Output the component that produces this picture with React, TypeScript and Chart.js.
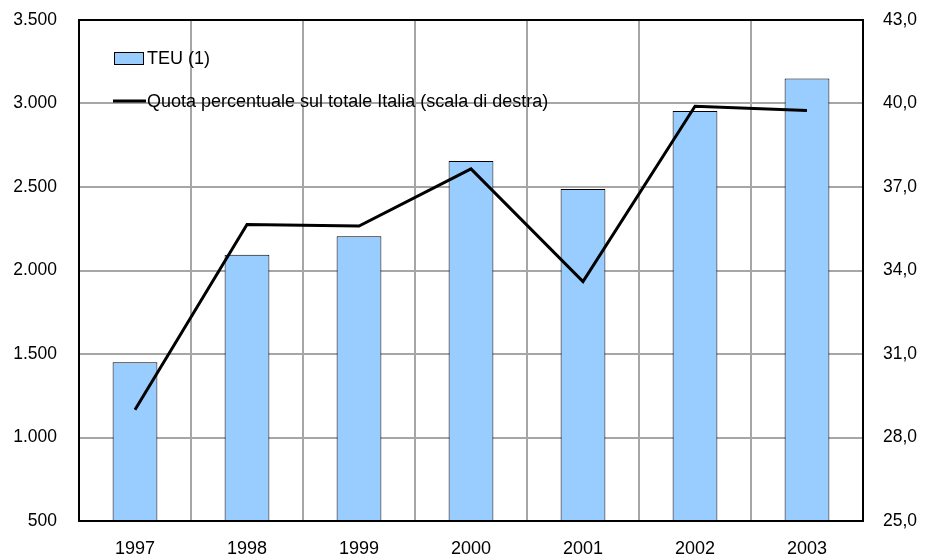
import React, { useEffect, useRef } from "react";
import { Chart, registerables } from "chart.js";

Chart.register(...registerables);

const years = ["1997", "1998", "1999", "2000", "2001", "2002", "2003"];
const teu = [1450, 2095, 2205, 2655, 2488, 2955, 3150];
const quota = [29.0, 35.65, 35.6, 37.65, 33.6, 39.9, 39.75];
const teuLabel = "TEU (1)";
const quotaLabel = "Quota percentuale sul totale Italia (scala di destra)";

const FONT = "'Liberation Sans', Arial, sans-serif";

const fmtLeft = (v: number) => {
  const s = Math.round(v).toString();
  return s.replace(/\B(?=(\d{3})+(?!\d))/g, ".");
};
const fmtRight = (v: number) => v.toFixed(1).replace(".", ",");

const framePlugin = {
  id: "frameAndLegend",
  afterDraw(chart: any) {
    const { ctx, chartArea } = chart;
    ctx.save();
    ctx.strokeStyle = "#000";
    ctx.lineWidth = 2;
    ctx.strokeRect(chartArea.left, chartArea.top, chartArea.right - chartArea.left, chartArea.bottom - chartArea.top);
    // legend
    const ds = chart.data.datasets;
    const bar = ds.find((d: any) => d.type === "bar");
    const line = ds.find((d: any) => d.type === "line");
    ctx.font = `18px ${FONT}`;
    ctx.textBaseline = "middle";
    ctx.textAlign = "left";
    ctx.fillStyle = bar.backgroundColor;
    ctx.fillRect(114, 52, 29, 12);
    ctx.strokeStyle = "#000";
    ctx.lineWidth = 1;
    ctx.strokeRect(114.5, 52.5, 29, 12);
    ctx.fillStyle = "#000";
    ctx.fillText(bar.label, 147, 59);
    ctx.strokeStyle = line.borderColor;
    ctx.lineWidth = 3;
    ctx.beginPath();
    ctx.moveTo(113, 101);
    ctx.lineTo(146, 101);
    ctx.stroke();
    ctx.fillText(line.label, 147, 102);
    ctx.restore();
  },
};

export default function App() {
  const ref = useRef<HTMLCanvasElement>(null);
  useEffect(() => {
    if (!ref.current) return;
    const chart = new Chart(ref.current, {
      type: "bar",
      data: {
        labels: years,
        datasets: [
          {
            type: "line",
            label: quotaLabel,
            data: quota,
            yAxisID: "y1",
            borderColor: "#000",
            borderWidth: 3,
            pointRadius: 0,
            tension: 0,
            order: 0,
          } as any,
          {
            type: "bar",
            label: teuLabel,
            data: teu,
            yAxisID: "y",
            backgroundColor: "#99CCFF",
            borderColor: "#000",
            borderWidth: 1,
            barPercentage: 0.4,
            categoryPercentage: 1,
            order: 1,
          },
        ],
      },
      options: {
        responsive: false,
        animation: false,
        layout: { padding: { top: 20, left: 0, right: 0, bottom: 0 } },
        plugins: { legend: { display: false }, tooltip: { enabled: false } },
        scales: {
          x: {
            grid: { color: "#a6a6a6", lineWidth: 2, drawTicks: false, offset: true },
            border: { display: false },
            ticks: { color: "#000", font: { family: FONT, size: 18 }, padding: 17 },
            afterFit: (s: any) => { s.height = 34; s.paddingLeft = 0; s.paddingRight = 0; },
          },
          y: {
            position: "left",
            min: 500,
            max: 3500,
            grid: { color: "#a6a6a6", lineWidth: 2, drawTicks: false },
            border: { display: false },
            ticks: { stepSize: 500, color: "#000", font: { family: FONT, size: 17.5 }, padding: 22, callback: (v: any) => fmtLeft(v) },
            afterFit: (s: any) => { s.width = 79; s.paddingTop = 0; s.paddingBottom = 0; },
          },
          y1: {
            position: "right",
            min: 25,
            max: 43,
            grid: { display: false, drawTicks: false },
            border: { display: false },
            ticks: { stepSize: 3, color: "#000", font: { family: FONT, size: 17.5 }, padding: 20, callback: (v: any) => fmtRight(v) },
            afterFit: (s: any) => { s.width = 62; s.paddingTop = 0; s.paddingBottom = 0; },
          },
        },
      },
      plugins: [framePlugin],
    });
    return () => chart.destroy();
  }, []);
  return (
    <div style={{ position: "fixed", left: 0, top: 0, width: 925, height: 555, background: "#fff" }}>
      <canvas ref={ref} width={925} height={555} />
    </div>
  );
}
